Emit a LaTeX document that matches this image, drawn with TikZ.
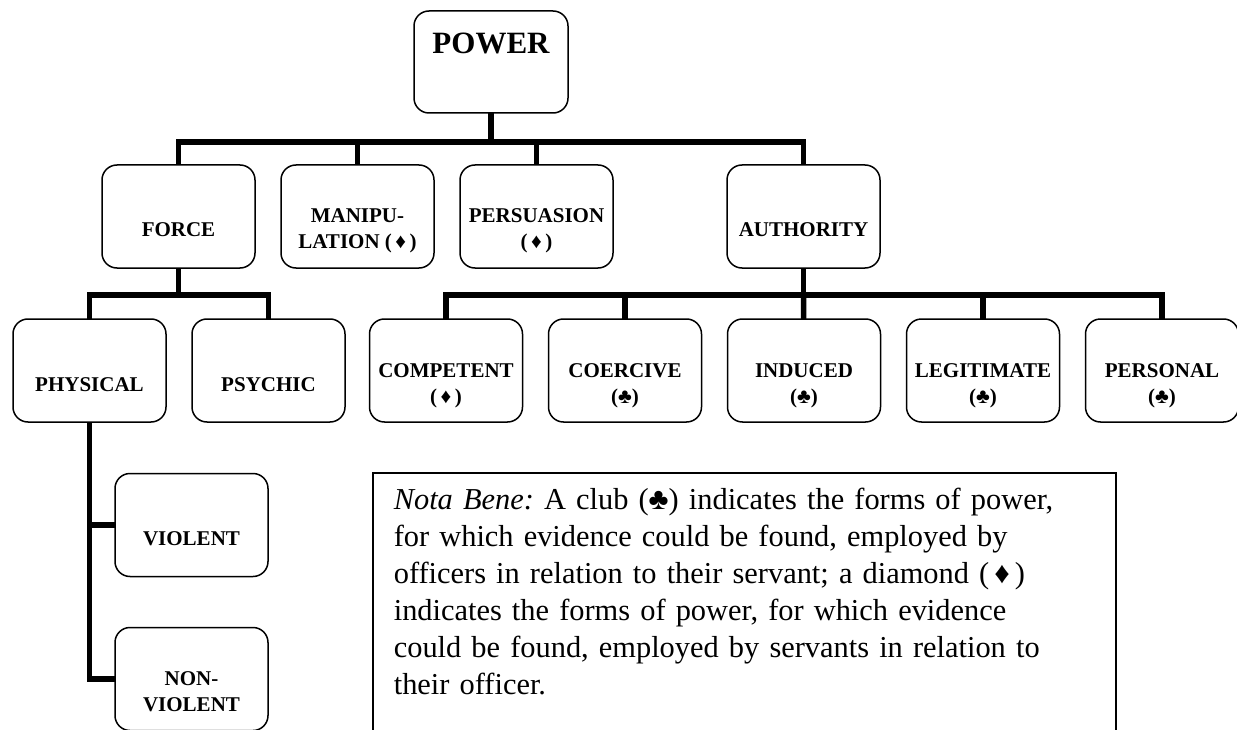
\documentclass[tikz,border=0pt]{standalone}
\usepackage{fontspec}
\setmainfont{Liberation Serif}
\usepackage{tikz}
\usetikzlibrary{positioning}
\frenchspacing

\tikzstyle{formbox} = [rectangle, rounded corners=15pt, draw, line width=1.5pt, outer sep=0pt, inner sep=0pt, minimum width=153pt, minimum height=103pt, font=\fontsize{21}{26}\selectfont\bfseries]
\tikzstyle{conn} = [line width=5.5pt]
\tikzstyle{notebox} = [draw, line width=1.6pt, anchor=north west, inner xsep=21pt, inner ysep=0pt, text width=701pt, text height=37pt, text depth=262pt, align=left, font=\fontsize{30.4}{37}\selectfont]

% label text sits low in the boxes
\newcommand{\oneline}[1]{\raisebox{-20.5pt}[0pt][0pt]{#1}}
\newcommand{\twoline}[2]{\raisebox{-6.5pt}[0pt][0pt]{\begin{tabular}[t]{@{}c@{}}#1\\#2\end{tabular}}}

\begin{document}
\begin{tikzpicture}[x=1pt, y=-1pt]
\useasboundingbox (0,0) rectangle (1237,730);

% Top
\node (power) [formbox, minimum width=154pt, minimum height=102pt, font=\fontsize{31}{36}\selectfont\bfseries] at (491,62) {\raisebox{8pt}[0pt][0pt]{POWER}};

% Second row
\node (force) [formbox] at (178.5,216.5) {\oneline{FORCE}};
\node (manip) [formbox, right=26pt of force] {\twoline{MANIPU-}{LATION (\,♦\,)}};
\node (persuasion) [formbox, right=26pt of manip] {\twoline{PERSUASION}{(\,♦\,)}};
\node (authority) [formbox] at (803.5,216.5) {\oneline{AUTHORITY}};

% Kinds of force
\node (physical) [formbox] at (89.5,370.5) {\oneline{PHYSICAL}};
\node (psychic) [formbox, right=26pt of physical] {\oneline{PSYCHIC}};
\node (violent) [formbox] at (191.5,525) {\oneline{VIOLENT}};
\node (nonviolent) [formbox, below=51pt of violent] {\twoline{NON-}{VIOLENT}};

% Kinds of authority
\node (competent) [formbox] at (446,370.5) {\twoline{COMPETENT}{(\,♦\,)}};
\node (coercive) [formbox, right=26pt of competent] {\twoline{COERCIVE}{(♣)}};
\node (induced) [formbox, right=26pt of coercive] {\twoline{INDUCED}{(♣)}};
\node (legitimate) [formbox, right=26pt of induced] {\twoline{LEGITIMATE}{(♣)}};
\node (personal) [formbox, right=26pt of legitimate] {\twoline{PERSONAL}{(♣)}};

% Note
\node (note) [notebox] at (372,472) {\textit{Nota Bene:} A club (♣) indicates the forms of power,\\
for which evidence could be found, employed by\\
officers in relation to their servant; a diamond (\,♦\,)\\
indicates the forms of power, for which evidence\\
could be found, employed by servants in relation to\\
their officer.};

% Connectors
\coordinate (bus1) at (491,142);
\coordinate (fbus) at (178.5,295);
\coordinate (abus) at (803.5,295);
\draw[conn] (power) -- (bus1);
\draw[conn] (force.north) |- (bus1) -| (authority.north);
\draw[conn] (manip) -- (manip |- bus1);
\draw[conn] (persuasion) -- (persuasion |- bus1);
\draw[conn] (force) -- (fbus);
\draw[conn] (physical.north) |- (fbus) -| (psychic.north);
\draw[conn] (authority) -- (abus);
\draw[conn] (competent.north) |- (abus) -| (personal.north);
\draw[conn] (coercive) -- (coercive |- abus);
\draw[conn] (induced) -- (abus);
\draw[conn] (legitimate) -- (legitimate |- abus);
\draw[conn] (physical.south) |- (nonviolent.west);
\draw[conn] (violent.west) -- (violent.west -| physical.south);
\end{tikzpicture}
\end{document}
